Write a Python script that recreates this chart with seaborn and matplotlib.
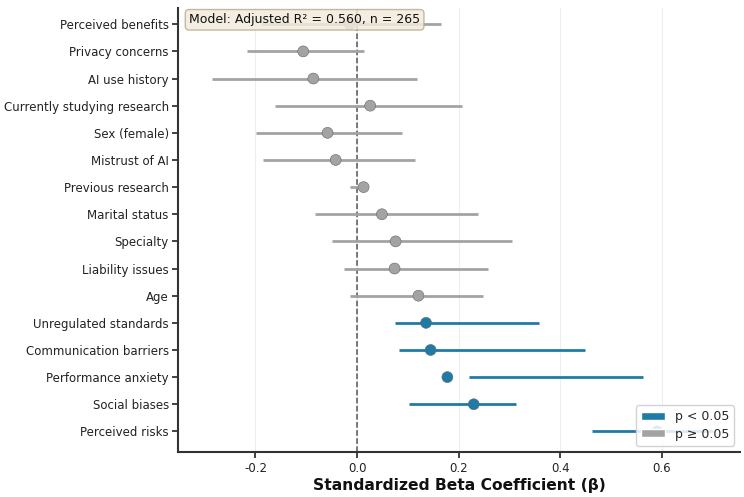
import numpy as np
import pandas as pd
import seaborn as sns
import matplotlib.pyplot as plt
from matplotlib.patches import Patch

# predictors, top to bottom
predictors = ['Perceived benefits', 'Privacy concerns', 'AI use history',
              'Currently studying research', 'Sex (female)', 'Mistrust of AI',
              'Previous research', 'Marital status', 'Specialty', 'Liability issues',
              'Age', 'Unregulated standards', 'Communication barriers',
              'Performance anxiety', 'Social biases', 'Perceived risks']
beta = [-0.014, -0.106, -0.086, 0.026, -0.058, -0.042, 0.013, 0.049, 0.076, 0.074,
        0.121, 0.136, 0.145, 0.178, 0.230, 0.591]
ci_low = [-0.19, -0.217, -0.285, -0.162, -0.199, -0.186, -0.014, -0.083, -0.049, -0.026,
          -0.014, 0.074, 0.082, 0.221, 0.103, 0.463]
ci_high = [0.165, 0.014, 0.118, 0.207, 0.088, 0.114, 0.006, 0.239, 0.306, 0.258,
           0.248, 0.358, 0.450, 0.563, 0.314, 0.702]
significant = [False] * 11 + [True] * 5

blue = '#1f7ba6'
gray = '#a3a3a3'

df = pd.DataFrame({'predictor': predictors, 'beta': beta, 'lo': ci_low, 'hi': ci_high,
                   'sig': significant})
df['pos'] = np.arange(len(df))

sns.set_style('ticks')
fig = plt.figure(figsize=(7.44, 4.97), dpi=100)
ax = fig.add_axes([0.239, 0.091, 0.756, 0.893])

ax.grid(axis='x', color='#eeeeee', linewidth=0.8)
ax.set_axisbelow(True)

for _, r in df.iterrows():
    c = blue if r.sig else gray
    ax.hlines(r.pos, r.lo, r.hi, color=c, linewidth=2, zorder=2)

sns.scatterplot(data=df, x='beta', y='pos', hue='sig', palette={True: blue, False: gray},
                s=62, edgecolor='#666666', linewidth=0.4, legend=False, ax=ax, zorder=3)

ax.axvline(0, color='#555555', linestyle='--', linewidth=1.1, zorder=1)

ax.set_yticks(df['pos'])
ax.set_yticklabels(predictors, fontsize=8.5, color='#111111')
ax.set_ylim(15.75, -0.6)
ax.set_xlim(-0.353, 0.755)
ax.set_xticks([-0.2, 0.0, 0.2, 0.4, 0.6])
ax.set_xticklabels(['-0.2', '0.0', '0.2', '0.4', '0.6'], fontsize=8.5, color='#111111')
ax.set_xlabel('Standardized Beta Coefficient (β)', fontsize=11.2, fontweight='bold',
              color='#111111', labelpad=2)
ax.set_ylabel('')
sns.despine(ax=ax)
for s in ['left', 'bottom']:
    ax.spines[s].set_linewidth(1.5)
    ax.spines[s].set_color('#333333')
ax.tick_params(colors='#222222', width=1.2, length=4)
ax.tick_params(axis='y', pad=2.5)

ax.text(0.02, 0.988, 'Model: Adjusted R² = 0.560, n = 265', transform=ax.transAxes,
        fontsize=9, va='top', ha='left', color='#111111',
        bbox=dict(boxstyle='round,pad=0.3', facecolor='#f3ecdd', edgecolor='#b9ad93',
                  alpha=0.85), zorder=5)

handles = [Patch(facecolor=blue, label='p < 0.05'),
           Patch(facecolor=gray, label='p ≥ 0.05')]
ax.legend(handles=handles, loc='lower right', fontsize=9, framealpha=0.85,
          handlelength=1.9, handleheight=0.6, labelspacing=0.35, borderaxespad=0.5)

fig.savefig('out.png', dpi=100)
